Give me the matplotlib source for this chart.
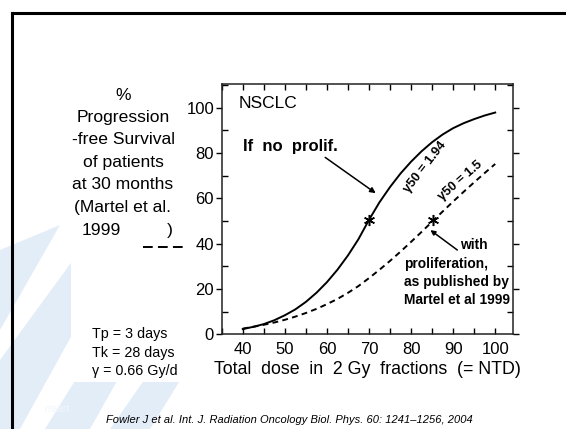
import matplotlib
matplotlib.use("Agg")
import matplotlib.pyplot as plt
from matplotlib.patches import Polygon, Rectangle
from matplotlib.lines import Line2D

plt.rcParams['font.family'] = ['Liberation Sans', 'DejaVu Sans']

# ---- data ----
dose = [40, 42.5, 45, 47.5, 50, 52.5, 55, 57.5, 60, 62.5, 65, 67.5, 70,
        72.5, 75, 77.5, 80, 82.5, 85, 87.5, 90, 92.5, 95, 97.5, 100]
no_prolif = [2.3, 3.3, 4.5, 6.2, 8.4, 11.0, 14.3, 18.3, 23.0, 28.5, 34.8, 42.0, 50.5,
             58.3, 65.0, 71.0, 76.2, 80.8, 84.8, 88.2, 91.0, 93.2, 95.0, 96.6, 97.9]
with_prolif = [2.5, 3.3, 4.2, 5.2, 6.4, 7.8, 9.4, 11.2, 13.3, 15.6, 18.3, 21.3, 24.8,
               28.5, 32.4, 36.5, 40.8, 45.2, 49.7, 54.2, 58.6, 62.9, 67.1, 71.2, 75.2]
star_x = [70, 85.3]
star_y = [50.5, 50.5]
xticks = [40, 50, 60, 70, 80, 90, 100]
yticks = [0, 20, 40, 60, 80, 100]

W, H = 566, 429
fig = plt.figure(figsize=(W / 100, H / 100), dpi=100)
fig.patch.set_facecolor('white')

def fp(x, y):
    return (x / W, 1 - y / H)

# background watermark (light blue stripes, lower left)
wm = '#e3edf8'
for poly in [
    [(0, 250), (60, 225), (0, 330)],
    [(0, 360), (95, 230), (130, 230), (20, 429), (0, 429)],
    [(45, 429), (150, 260), (185, 260), (90, 429)],
    [(110, 429), (200, 300), (230, 300), (150, 429)],
]:
    fig.patches.append(Polygon([fp(*p) for p in poly], closed=True,
                               transform=fig.transFigure, facecolor=wm,
                               edgecolor='none', zorder=0))
# white chart-image area over the watermark
x0, y0 = fp(71, 382)
fig.patches.append(Rectangle((x0, y0), 1 - x0, 1 - y0, transform=fig.transFigure,
                             facecolor='white', edgecolor='none', zorder=0.5))
fig.text(*fp(44, 409), 'maart', fontsize=7, color='#f2f6fb', ha='left', va='center')
# slide frame (left and top)
fig.add_artist(Line2D([fp(12, 0)[0], fp(12, 0)[0]], [0, fp(0, 13)[1]],
                      transform=fig.transFigure, color='black', lw=2.2, zorder=3))
fig.add_artist(Line2D([fp(12, 0)[0], 1], [fp(0, 13)[1], fp(0, 13)[1]],
                      transform=fig.transFigure, color='black', lw=2.2, zorder=3))

ax = fig.add_axes([221.7 / W, 1 - 334.3 / H, (513.3 - 221.7) / W, (334.3 - 84) / H])
ax.set_zorder(2)
ax.set_facecolor('none')
ax.plot(dose, no_prolif, color='black', lw=1.4)
ax.plot(dose, with_prolif, color='black', lw=1.4, linestyle=(0, (3, 2.2)))
ax.plot(star_x, star_y, linestyle='none', marker=(6, 2, 0), ms=8, mew=1.1, color='black')

ax.set_xlim(35, 104.3)
ax.set_ylim(0, 110.5)
ax.set_xticks(xticks)
ax.set_xticks(range(35, 105, 5), minor=True)
ax.set_yticks(yticks)
ax.set_yticks(range(0, 111, 10), minor=True)
for s in ax.spines.values():
    s.set_linewidth(1.1)
    s.set_color('#222222')
ax.tick_params(axis='x', which='both', direction='in', top=True, length=4, width=1,
               labelsize=12, pad=5.5)
ax.tick_params(axis='y', which='major', direction='out', length=4, width=1,
               labelsize=12, pad=1.5)
ax.tick_params(axis='y', which='minor', direction='in', length=4, width=1)
ax.tick_params(axis='y', which='both', right=True)
ax.set_xlabel('Total  dose  in  2 Gy  fractions  (= NTD)', fontsize=12.75, labelpad=3)

# annotations inside the axes
ax.text(39.1, 101.7, 'NSCLC', fontsize=12.5, ha='left', va='center')
ax.text(40.1, 83.0, 'If  no  prolif.', fontsize=12, fontweight='bold', ha='left', va='center')
ax.annotate('', xy=(71.6, 62.3), xytext=(59.6, 78.1),
            arrowprops=dict(arrowstyle='-|>', color='black', lw=1.1,
                            mutation_scale=8, shrinkA=0, shrinkB=0))
ax.text(83.4, 74.0, '\u03b350 = 1.94', fontsize=9.3, fontweight='bold', rotation=52,
        ha='center', va='center')
ax.text(91.7, 67.6, '\u03b350 = 1.5', fontsize=9.3, fontweight='bold', rotation=41,
        ha='center', va='center')
ax.annotate('', xy=(84.6, 46.0), xytext=(91.0, 37.2),
            arrowprops=dict(arrowstyle='-|>', color='black', lw=1.1,
                            mutation_scale=7, shrinkA=0, shrinkB=0))
ax.text(91.7, 39.4, 'with', fontsize=9.9, fontweight='bold', ha='left', va='center')
for t, yy in [('proliferation,', 31.0), ('as published by', 23.0), ('Martel et al 1999', 15.2)]:
    ax.text(78.4, yy, t, fontsize=9.9, fontweight='bold', ha='left', va='center')

# left-side label
lab = ['%', 'Progression', '-free Survival', 'of patients', 'at 30 months', '(Martel et al.']
for i, t in enumerate(lab):
    fig.text(*fp(123, 95 + i * 22.5), t, fontsize=12.6, ha='center', va='center')
fig.text(*fp(82, 230), '1999', fontsize=12.6, ha='left', va='center')
fig.text(*fp(170, 230), ')', fontsize=12.6, ha='center', va='center')
fig.add_artist(Line2D([fp(143, 0)[0], fp(183, 0)[0]], [fp(0, 246.5)[1]] * 2,
                      transform=fig.transFigure, color='black', lw=1.4,
                      linestyle=(0, (5.0, 2.7))))

# parameters
for i, t in enumerate(['Tp = 3 days', 'Tk = 28 days', '\u03b3 = 0.66 Gy/d']):
    fig.text(*fp(92, 334 + i * 18.5), t, fontsize=10.3, ha='left', va='center')

fig.text(*fp(289, 420), 'Fowler J et al. Int. J. Radiation Oncology Biol. Phys. 60: 1241\u20131256, 2004',
         fontsize=8, style='italic', ha='center', va='center')

fig.savefig('out.png', dpi=100)
